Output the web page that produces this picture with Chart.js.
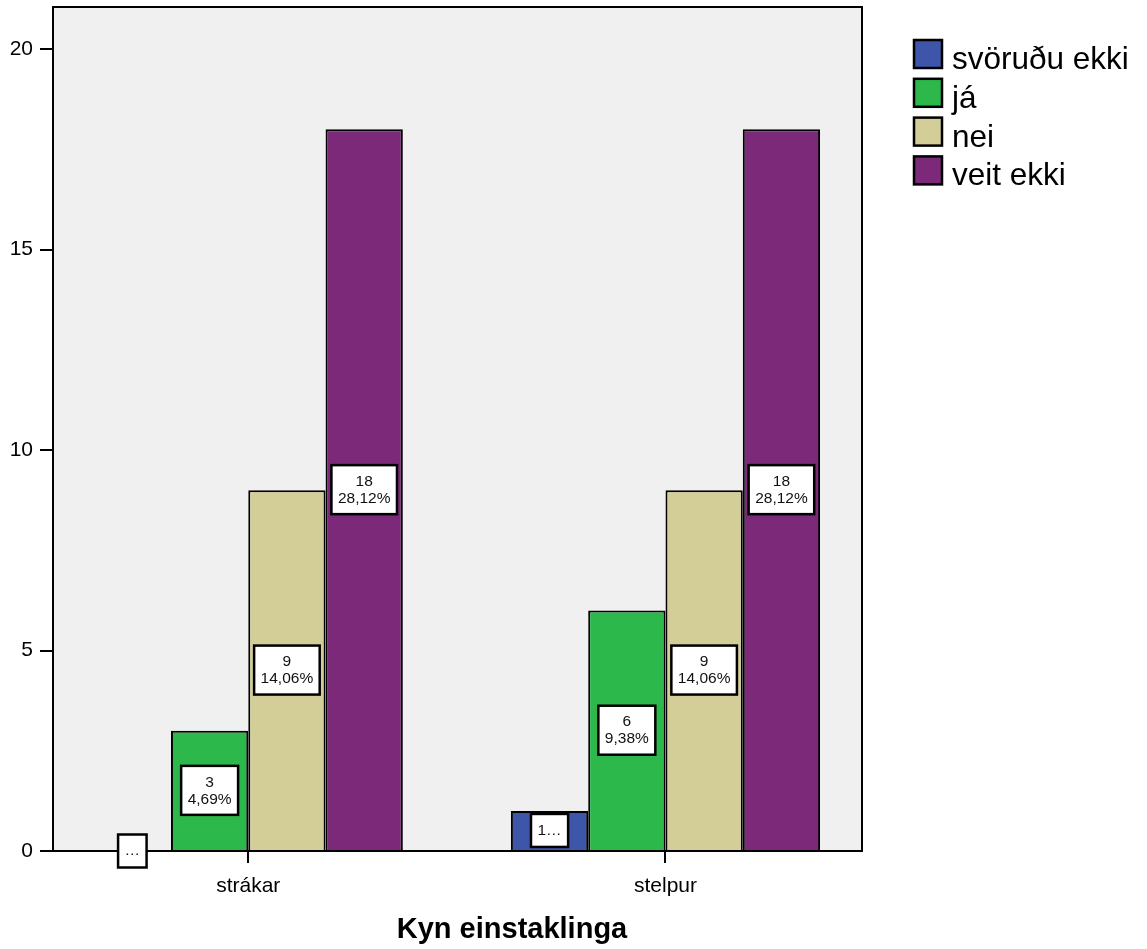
<!DOCTYPE html>
<html lang="is">
<head>
<meta charset="utf-8">
<title>Kyn einstaklinga</title>
<script src="https://cdn.jsdelivr.net/npm/chart.js@4/dist/chart.umd.min.js"></script>
<style>
    html, body { margin: 0; padding: 0; background: #ffffff; }
    #wrap { position: relative; width: 1147px; height: 949px; }
</style>
</head>
<body>
<div id="wrap"><canvas id="barChart"></canvas></div>
<script>
const categories = ['strákar', 'stelpur'];
const seriesNames = ['svöruðu ekki', 'já', 'nei', 'veit ekki'];
const seriesColors = ['#3d56aa', '#2db84b', '#d3ce97', '#7b2978'];

const svorudu = [0, 1];
const ja = [3, 6];
const nei = [9, 9];
const veit = [18, 18];

const svoruduPct = ['0,00%', '1,56%'];
const jaPct = ['4,69%', '9,38%'];
const neiPct = ['14,06%', '14,06%'];
const veitPct = ['28,12%', '28,12%'];

const yTicks = [0, 5, 10, 15, 20];

const FONT = '"Liberation Sans", Arial, sans-serif';

(function () {
    const seriesValues = [svorudu, ja, nei, veit];
    const seriesPct = [svoruduPct, jaPct, neiPct, veitPct];

    // plot background + frame
    const framePlugin = {
        id: 'frame',
        beforeDraw(chart) {
            const a = chart.chartArea;
            const ctx = chart.ctx;
            ctx.save();
            ctx.fillStyle = '#f0f0f0';
            ctx.fillRect(a.left, a.top, a.right - a.left, a.bottom - a.top);
            ctx.restore();
        },
        afterDraw(chart) {
            const a = chart.chartArea;
            const ctx = chart.ctx;
            ctx.save();
            ctx.strokeStyle = '#000';
            ctx.lineWidth = 2;
            ctx.strokeRect(a.left, a.top, a.right - a.left, a.bottom - a.top);
            ctx.restore();
        },
    };

    // white value boxes in the bars
    const boxPlugin = {
        id: 'valueBoxes',
        afterDraw(chart) {
            const ctx = chart.ctx;
            ctx.save();
            ctx.font = '15.5px ' + FONT;
            ctx.textAlign = 'center';
            ctx.textBaseline = 'middle';
            chart.data.datasets.forEach((ds, di) => {
                const meta = chart.getDatasetMeta(di);
                meta.data.forEach((bar, i) => {
                    const value = seriesValues[di][i];
                    const mid = (bar.y + bar.base) / 2;
                    const barH = Math.abs(bar.base - bar.y);
                    let lines;
                    let h;
                    if (barH < 60) {
                        lines = [value === 0 ? '\u2026' : value + '\u2026'];
                        h = 33;
                    } else {
                        lines = [String(value), seriesPct[di][i]];
                        h = 49;
                    }
                    const textW = Math.max(...lines.map((t) => ctx.measureText(t).width));
                    const w = textW + 13;
                    ctx.fillStyle = '#ffffff';
                    ctx.fillRect(bar.x - w / 2, mid - h / 2, w, h);
                    ctx.strokeStyle = '#000';
                    ctx.lineWidth = 2.5;
                    ctx.strokeRect(bar.x - w / 2, mid - h / 2, w, h);
                    ctx.fillStyle = '#111';
                    if (lines.length === 1) {
                        ctx.fillText(lines[0], bar.x, mid);
                    } else {
                        ctx.fillText(lines[0], bar.x, mid - 8);
                        ctx.fillText(lines[1], bar.x, mid + 9);
                    }
                });
            });
            ctx.restore();
        },
    };

    // legend on the right + axis title
    const legendPlugin = {
        id: 'sideLegend',
        afterDraw(chart) {
            const ctx = chart.ctx;
            ctx.save();
            ctx.font = '31.5px ' + FONT;
            ctx.textAlign = 'left';
            ctx.textBaseline = 'alphabetic';
            chart.data.datasets.forEach((ds, i) => {
                const top = 40 + i * 38.8;
                ctx.fillStyle = ds.backgroundColor;
                ctx.fillRect(914, top, 28, 28);
                ctx.strokeStyle = '#000';
                ctx.lineWidth = 2.5;
                ctx.strokeRect(914, top, 28, 28);
                ctx.fillStyle = '#000';
                ctx.fillText(ds.label, 952, top + 29);
            });
            ctx.font = 'bold 29px ' + FONT;
            ctx.textAlign = 'center';
            ctx.textBaseline = 'middle';
            ctx.fillText('Kyn einstaklinga', 512, 930);
            ctx.restore();
        },
    };

    const datasets = seriesNames.map((name, i) => ({
        label: name,
        data: seriesValues[i].map((v, ci) => ({ x: ci, y: v })),
        backgroundColor: seriesColors[i],
        borderColor: '#000',
        borderWidth: 2,
        borderSkipped: 'bottom',
        categoryPercentage: 0.741,
        barPercentage: 1,
    }));

    new Chart(document.getElementById('barChart'), {
        type: 'bar',
        data: { datasets },
        options: {
            responsive: true,
            maintainAspectRatio: false,
            animation: false,
            layout: { padding: { top: 7, right: 285, left: 0, bottom: 0 } },
            plugins: {
                legend: { display: false },
                tooltip: { enabled: false },
            },
            scales: {
                x: {
                    type: 'linear',
                    offset: false,
                    min: -0.468,
                    max: 1.471,
                    afterFit: (scale) => {
                        scale.height = 98;
                        scale.paddingLeft = 0;
                        scale.paddingRight = 0;
                    },
                    afterBuildTicks: (scale) => {
                        scale.ticks = categories.map((c, i) => ({ value: i }));
                    },
                    ticks: {
                        stepSize: 1,
                        includeBounds: false,
                        color: '#000',
                        font: { family: FONT, size: 21 },
                        padding: 11,
                        maxRotation: 0,
                        callback: (v) => categories[v],
                    },
                    grid: {
                        offset: false,
                        drawOnChartArea: false,
                        drawTicks: true,
                        tickLength: 12,
                        color: '#000',
                        lineWidth: 2,
                    },
                    border: { display: true, color: '#000', width: 2 },
                },
                y: {
                    min: 0,
                    max: 21.05,
                    afterFit: (scale) => {
                        scale.width = 53;
                        scale.paddingTop = 0;
                        scale.paddingBottom = 0;
                    },
                    afterBuildTicks: (scale) => {
                        scale.ticks = yTicks.map((v) => ({ value: v }));
                    },
                    ticks: {
                        stepSize: 5,
                        includeBounds: false,
                        color: '#000',
                        font: { family: FONT, size: 21 },
                        padding: 7,
                    },
                    grid: {
                        drawOnChartArea: false,
                        drawTicks: true,
                        tickLength: 13,
                        color: '#000',
                        lineWidth: 2,
                    },
                    border: { display: true, color: '#000', width: 2 },
                },
            },
        },
        plugins: [framePlugin, boxPlugin, legendPlugin],
    });
})();
</script>
</body>
</html>
